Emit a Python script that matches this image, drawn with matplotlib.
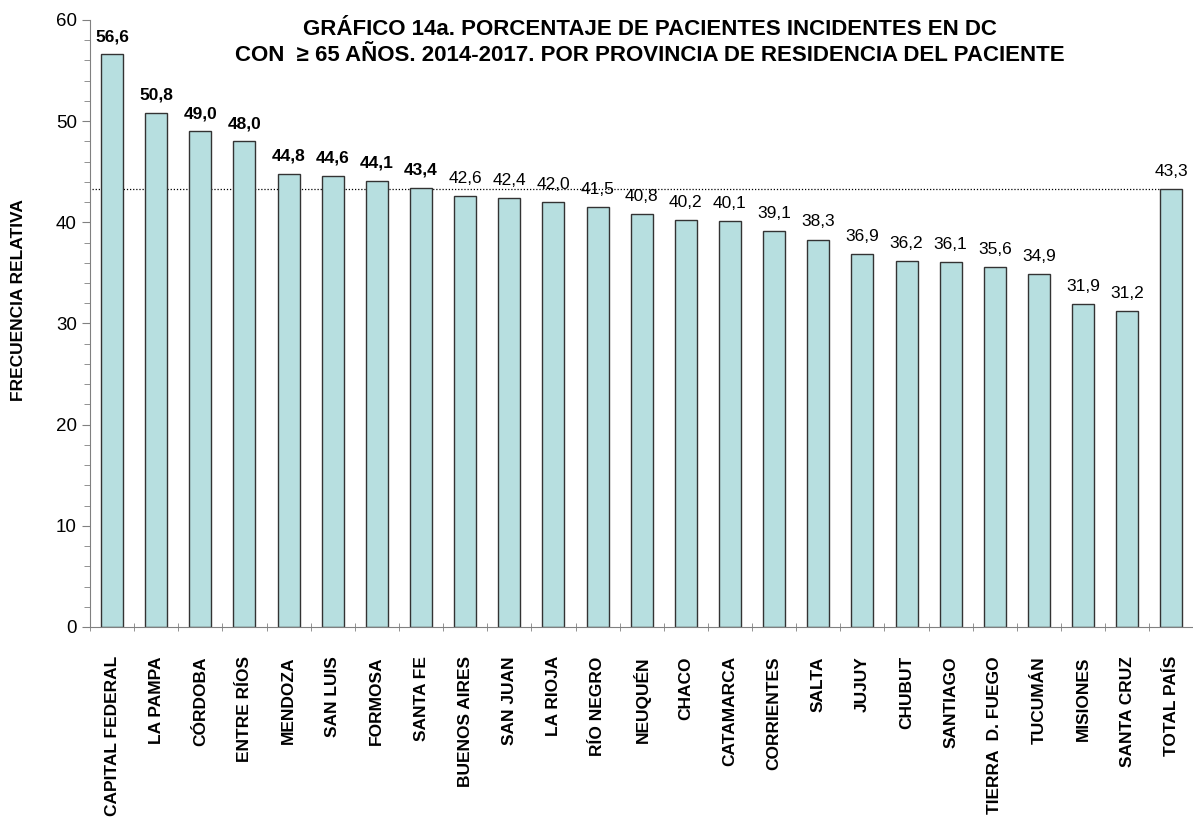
import matplotlib.pyplot as plt
import numpy as np

plt.rcParams['font.family'] = ['Liberation Sans', 'DejaVu Sans']

provincias = ["CAPITAL FEDERAL", "LA PAMPA", "CÓRDOBA", "ENTRE RÍOS", "MENDOZA",
              "SAN LUIS", "FORMOSA", "SANTA FE", "BUENOS AIRES", "SAN JUAN",
              "LA RIOJA", "RÍO NEGRO", "NEUQUÉN", "CHACO", "CATAMARCA",
              "CORRIENTES", "SALTA", "JUJUY", "CHUBUT", "SANTIAGO",
              "TIERRA  D. FUEGO", "TUCUMÁN", "MISIONES", "SANTA CRUZ", "TOTAL PAÍS"]
valores = [56.6, 50.8, 49.0, 48.0, 44.8, 44.6, 44.1, 43.4, 42.6, 42.4,
           42.0, 41.5, 40.8, 40.2, 40.1, 39.1, 38.3, 36.9, 36.2, 36.1,
           35.6, 34.9, 31.9, 31.2, 43.3]
total_pais = 43.3

fig = plt.figure(figsize=(11.93, 8.18), dpi=100)
ax = fig.add_axes([0.0754, 0.2335, 0.925, 0.7421])

x = np.arange(len(provincias))
ax.bar(x, valores, width=0.5, color="#B7DFE0", edgecolor="#333333", linewidth=1, zorder=2)

# linea del promedio del pais
ax.plot([-0.45, len(provincias) - 1.25], [total_pais, total_pais], color="black",
        linestyle=(0, (1, 1.5)), linewidth=0.9, zorder=1)

for xi, v in zip(x, valores):
    peso = 'bold' if (v > total_pais and xi < len(valores) - 1) else 'normal'
    ax.text(xi, v + 1.0, f"{v:.1f}".replace('.', ','), ha='center', va='bottom',
            fontsize=12.5, fontweight=peso)

ax.set_xlim(-0.5, len(provincias) - 0.5)
ax.set_ylim(0, 60)
ax.set_yticks(range(0, 61, 10))
ax.set_yticks(range(0, 61, 2), minor=True)
ax.tick_params(axis='y', labelsize=13.5, length=6, color="#808080", direction='out')
ax.tick_params(axis='y', which='minor', length=4, color="#808080")

ax.set_xticks(x)
ax.set_xticklabels(provincias, rotation=90, fontsize=12.5, fontweight='bold')
ax.tick_params(axis='x', length=0, pad=21)
ax.set_xticks(np.arange(-0.5, len(provincias), 1), minor=True)
ax.tick_params(axis='x', which='minor', length=6, color="#808080", direction='inout')

ax.set_ylabel("FRECUENCIA RELATIVA", fontsize=12.5, fontweight='bold', va='center')
ax.yaxis.set_label_coords(-0.065, 0.539)

for lado in ['top', 'right']:
    ax.spines[lado].set_visible(False)
ax.spines['left'].set_color("#808080")
ax.spines['bottom'].set_color("#808080")

fig.text(0.545, 0.948, "GRÁFICO 14a. PORCENTAJE DE PACIENTES INCIDENTES EN DC\n"
         "CON  ≥ 65 AÑOS. 2014-2017. POR PROVINCIA DE RESIDENCIA DEL PACIENTE",
         ha='center', va='center', fontsize=16, fontweight='bold', linespacing=1.27)

fig.savefig("out.png", dpi=100)
